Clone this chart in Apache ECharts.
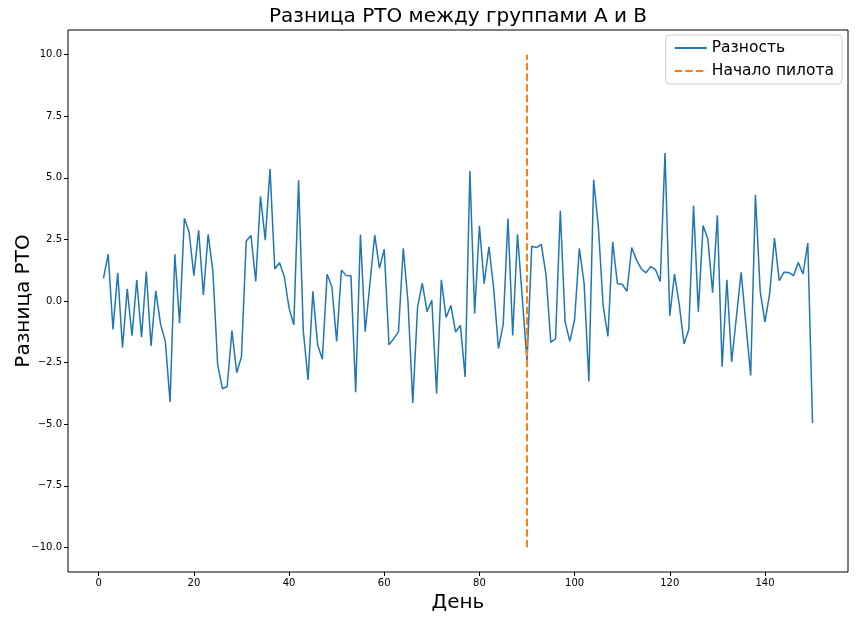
<!DOCTYPE html>
<html>
<head>
<meta charset="utf-8">
<script src="https://cdn.jsdelivr.net/npm/echarts@6/dist/echarts.min.js"></script>
<style>
html,body{margin:0;padding:0;background:#fff;}
#chart{width:859px;height:619px;}
</style>
</head>
<body>
<div id="chart"></div>
<script>
const days = [1,2,3,4,5,6,7,8,9,10,11,12,13,14,15,16,17,18,19,20,21,22,23,24,25,26,27,28,29,30,
31,32,33,34,35,36,37,38,39,40,41,42,43,44,45,46,47,48,49,50,51,52,53,54,55,56,57,58,59,60,
61,62,63,64,65,66,67,68,69,70,71,72,73,74,75,76,77,78,79,80,81,82,83,84,85,86,87,88,89,90,
91,92,93,94,95,96,97,98,99,100,101,102,103,104,105,106,107,108,109,110,111,112,113,114,115,116,117,118,119,120,
121,122,123,124,125,126,127,128,129,130,131,132,133,134,135,136,137,138,139,140,141,142,143,144,145,146,147,148,149,150];
const diffValues = [0.92,1.9,-1.15,1.14,-1.9,0.49,-1.41,0.85,-1.47,1.2,-1.82,0.41,-0.94,-1.64,-4.1,1.9,-0.9,3.36,2.79,1.03,
2.87,0.25,2.71,1.2,-2.59,-3.56,-3.47,-1.2,-2.91,-2.26,2.44,2.66,0.79,4.25,2.47,5.36,1.3,1.55,0.99,-0.29,
-0.97,4.9,-1.24,-3.2,0.39,-1.78,-2.36,1.09,0.57,-1.64,1.26,1.03,1.02,-3.7,2.7,-1.25,0.72,2.68,1.33,2.1,
-1.78,-1.53,-1.24,2.14,-0.05,-4.14,-0.26,0.72,-0.43,0.03,-3.75,0.86,-0.67,-0.18,-1.26,-0.99,-3.08,5.28,-0.51,3.05,
0.7,2.2,0.5,-1.93,-0.95,3.35,-1.4,2.71,0.15,-2.45,2.22,2.17,2.3,1.06,-1.68,-1.53,3.66,-0.83,-1.64,-0.76,
2.14,0.72,-3.27,4.92,3.0,-0.2,-1.44,2.4,0.7,0.68,0.39,2.17,1.67,1.31,1.14,1.4,1.27,0.79,6.01,-0.6,
1.09,-0.16,-1.74,-1.16,3.87,-0.44,3.06,2.52,0.34,3.48,-2.67,0.86,-2.47,-0.65,1.16,-0.95,-3.02,4.31,0.39,-0.86,
0.32,2.55,0.83,1.17,1.16,1.03,1.56,1.1,2.35,-4.95];
const pilotDay = [90, 90];
const pilotRange = [-10, 10];
const xTicks = [0,20,40,60,80,100,120,140];
const yTicks = [-10,-7.5,-5,-2.5,0,2.5,5,7.5,10];

const FONT = 'DejaVu Sans';
const chart = echarts.init(document.getElementById('chart'), null, {renderer:'canvas'});
const fmtY = v => (v < 0 ? '\u2212' : '') + Math.abs(v).toFixed(1);

chart.setOption({
  backgroundColor: '#fff',
  animation: false,
  textStyle: {fontFamily: FONT},
  graphic: [{
    type: 'text', x: 458, y: 17,
    style: {text: 'Разница РТО между группами А и В', fontFamily: FONT, fontSize: 20,
      fill: '#000', textAlign: 'center', textVerticalAlign: 'middle'}
  }],
  legend: {
    right: 17, top: 35, orient: 'vertical',
    itemWidth: 32, itemHeight: 12, itemGap: 7,
    padding: [5, 8, 5, 8],
    borderColor: '#d0d0d0', borderWidth: 1, borderRadius: 4,
    backgroundColor: 'rgba(255,255,255,0.8)',
    itemStyle: {opacity: 0},
    textStyle: {fontSize: 15.5, color: '#000', fontFamily: FONT},
    data: ['Разность', 'Начало пилота']
  },
  grid: {left: 68, right: 11, top: 30, bottom: 47, outerBoundsMode: 'none', containLabel: false,
    show: true, borderColor: '#000', borderWidth: 1, backgroundColor: '#fff'},
  xAxis: {
    type: 'value', min: -6.45, max: 157.45,
    name: 'День', nameLocation: 'middle', nameGap: 21, nameMoveOverlap: false,
    nameTextStyle: {fontSize: 20, color: '#000', fontFamily: FONT},
    axisLine: {show: false, onZero: false},
    splitLine: {show: false},
    axisTick: {show: true, length: 4, lineStyle: {color: '#000'}, customValues: xTicks},
    axisLabel: {fontSize: 10, color: '#000', margin: 6, fontFamily: FONT, customValues: xTicks}
  },
  yAxis: {
    type: 'value', min: -11, max: 11,
    name: 'Разница РТО', nameLocation: 'middle', nameGap: 34, nameRotate: 90, nameMoveOverlap: false,
    nameTextStyle: {fontSize: 20, color: '#000', fontFamily: FONT},
    axisLine: {show: false, onZero: false},
    splitLine: {show: false},
    axisTick: {show: true, length: 4, lineStyle: {color: '#000'}, customValues: yTicks},
    axisLabel: {fontSize: 10, color: '#000', margin: 6, fontFamily: FONT, customValues: yTicks, formatter: fmtY}
  },
  series: [
    {
      name: 'Разность', type: 'line', symbol: 'none',
      data: days.map((d, i) => [d, diffValues[i]]),
      lineStyle: {color: '#1f77b4', width: 1.5},
      itemStyle: {color: '#1f77b4'}
    },
    {
      name: 'Начало пилота', type: 'line', symbol: 'none',
      data: pilotDay.map((d, i) => [d, pilotRange[i]]),
      lineStyle: {color: '#ff7f0e', width: 2, type: [7.4, 3.2]},
      itemStyle: {color: '#ff7f0e'}
    }
  ]
});
</script>
</body>
</html>
